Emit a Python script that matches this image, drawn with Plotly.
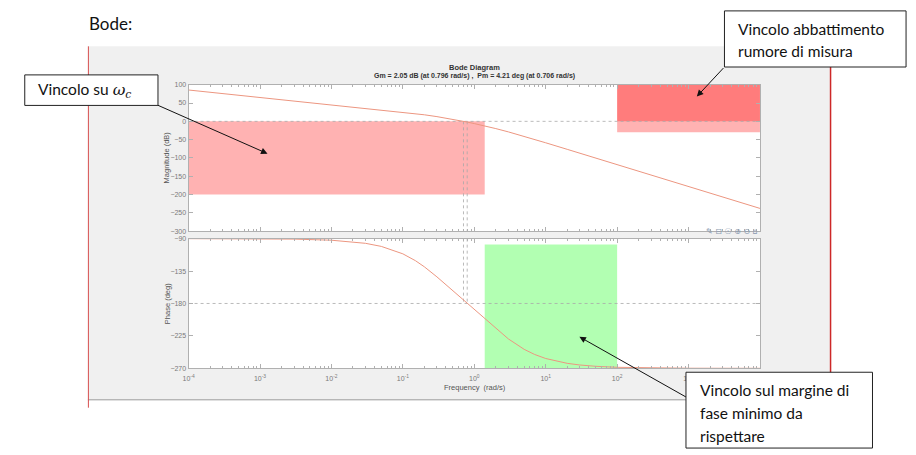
import plotly.graph_objects as go

W, H = 916, 455

# ---- data ----
freq = [1e-4, 3e-4, 1e-3, 3e-3, 1e-2, 2e-2, 3e-2, 5e-2,
        0.1, 0.15, 0.2, 0.3, 0.4, 0.5, 0.706, 0.8,
        1, 1.2, 1.5, 2, 3, 5, 7, 10,
        20, 30, 50, 100, 300, 1000, 3000, 1e4]
mag_db = [85.6, 76.0, 65.6, 56.0, 45.6, 39.6, 36.0, 31.5,
          25.1, 21.1, 17.9, 12.9, 9.0, 5.6, 0.0, -2.1,
          -6.1, -9.5, -13.9, -19.8, -28.8, -41.0, -49.5, -58.6,
          -76.5, -87.0, -100.3, -118.4, -147.0, -177.9, -207.0, -237.9]
phase_deg = [-90.02, -90.06, -90.2, -90.65, -92.2, -94.4, -96.5, -100.8,
             -111.1, -120.6, -129.1, -143.1, -153.9, -162.4, -175.5, -180.2,
             -188.7, -195.6, -204.1, -215.0, -229.2, -243.7, -250.8, -256.4,
             -263.1, -265.4, -267.2, -268.6, -269.5, -269.9, -269.95, -270.0]

gm_freq = 0.796
pm_freq = 0.706
gm_db = 2.05
pm_deg = 4.21

wc_box_freq = [1e-4, 1.4]
wc_box_db = [-200, 0]
noise_box_freq = [100, 1e4]
noise_box_db = [-30, 100]
noise_box2_db = [0, 100]
pm_box_freq = [1.4, 100]
pm_box_deg = [-270, -98]

mag_ticks = [-300, -250, -200, -150, -100, -50, 0, 50, 100]
phase_ticks = [-270, -225, -180, -135, -90]
decades = [-4, -3, -2, -1, 0, 1, 2, 3, 4]
decade_labels = ['10<sup>%d</sup>' % d for d in decades]

title_text = "Bode Diagram"
subtitle_text = "Gm = %.2f dB (at %.3f rad/s) ,  Pm = %.2f deg (at %.3f rad/s)" % (gm_db, gm_freq, pm_deg, pm_freq)

# ---- helpers ----
def px(x):
    return x / W

def py(y):
    return 1 - y / H

major_vals = [10 ** d for d in decades]
minor_vals = [m * 10 ** d for d in decades[:-1] for m in range(2, 10)]

CURVE = 'rgb(236,150,128)'
AXC = '#b0b0b0'
TXT = '#7a7a7a'

fig = go.Figure()

def rect_trace(xs, ys, color, xa, ya):
    return go.Scatter(x=[xs[0], xs[1], xs[1], xs[0], xs[0]],
                      y=[ys[0], ys[0], ys[1], ys[1], ys[0]],
                      mode='lines', fill='toself', fillcolor=color,
                      line=dict(width=0, color=color), hoverinfo='skip',
                      showlegend=False, xaxis=xa, yaxis=ya)

RED = 'rgba(255,0,0,0.3)'
GREEN = 'rgba(0,255,0,0.3)'
fig.add_trace(rect_trace(wc_box_freq, wc_box_db, RED, 'x', 'y'))
fig.add_trace(rect_trace(noise_box_freq, noise_box_db, RED, 'x', 'y'))
fig.add_trace(rect_trace(noise_box_freq, noise_box2_db, RED, 'x', 'y'))
fig.add_trace(rect_trace(pm_box_freq, pm_box_deg, GREEN, 'x2', 'y2'))

DOT = dict(color='#a8a8a8', width=0.8, dash='dot')
# reference lines
fig.add_trace(go.Scatter(x=[freq[0], freq[-1]], y=[0, 0], mode='lines', line=DOT,
                         showlegend=False, hoverinfo='skip', xaxis='x', yaxis='y'))
fig.add_trace(go.Scatter(x=[freq[0], freq[-1]], y=[-180, -180], mode='lines', line=DOT,
                         showlegend=False, hoverinfo='skip', xaxis='x2', yaxis='y2'))
for f in [pm_freq, gm_freq]:
    fig.add_trace(go.Scatter(x=[f, f], y=[0, -300], mode='lines', line=DOT,
                             showlegend=False, hoverinfo='skip', xaxis='x', yaxis='y'))
    fig.add_trace(go.Scatter(x=[f, f], y=[-90, -180], mode='lines', line=DOT,
                             showlegend=False, hoverinfo='skip', xaxis='x2', yaxis='y2'))

fig.add_trace(go.Scatter(x=freq, y=mag_db, mode='lines', line=dict(color=CURVE, width=1),
                         showlegend=False, xaxis='x', yaxis='y'))
fig.add_trace(go.Scatter(x=freq, y=phase_deg, mode='lines', line=dict(color=CURVE, width=1),
                         showlegend=False, xaxis='x2', yaxis='y2'))

X0, X1 = 185, 764
MAG_TOP, MAG_BOT = 82, 230.7
PH_TOP, PH_BOT = 238.3, 370

common_x = dict(type='log', range=[-4, 4], domain=[px(X0), px(X1)],
                tickmode='array', tickvals=major_vals, ticks='inside', ticklen=4,
                tickcolor=AXC, showline=True, linecolor=AXC, linewidth=1, mirror='allticks',
                showgrid=False, zeroline=False,
                minor=dict(tickmode='array', tickvals=minor_vals, ticks='inside', ticklen=2,
                           tickcolor=AXC, showgrid=False),
                tickfont=dict(family='Liberation Sans', size=7, color=TXT))
common_y = dict(ticks='inside', ticklen=4, tickcolor=AXC, showline=True, linecolor=AXC,
                linewidth=1, mirror='allticks', showgrid=False, zeroline=False,
                tickfont=dict(family='Liberation Sans', size=7, color=TXT))

fig.update_layout(
    width=W, height=H, margin=dict(l=0, r=0, t=0, b=0),
    paper_bgcolor='white', plot_bgcolor='rgba(0,0,0,0)',
    showlegend=False,
    xaxis=dict(common_x, anchor='y', showticklabels=False),
    yaxis=dict(common_y, domain=[py(MAG_BOT), py(MAG_TOP)], range=[-300, 100],
               tickmode='array', tickvals=mag_ticks, anchor='x'),
    xaxis2=dict(common_x, anchor='y2', ticktext=decade_labels, ticklabelstandoff=3),
    yaxis2=dict(common_y, domain=[py(PH_BOT), py(PH_TOP)], range=[-270, -90],
                tickmode='array', tickvals=phase_ticks, anchor='x2'),
)

shapes = []
# figure (gray) background
shapes.append(dict(type='rect', xref='paper', yref='paper', x0=px(83), x1=px(835), y0=py(402), y1=py(43),
                   fillcolor='#f0f0f0', line=dict(width=0), layer='below'))
for top, bot in [(MAG_TOP, MAG_BOT), (PH_TOP, PH_BOT)]:
    shapes.append(dict(type='rect', xref='paper', yref='paper', x0=px(X0), x1=px(X1), y0=py(bot), y1=py(top),
                       fillcolor='white', line=dict(width=0), layer='below'))
shapes.append(dict(type='line', xref='paper', yref='paper', x0=px(83), x1=px(689), y0=py(402), y1=py(402),
                   line=dict(color='#9a9a9a', width=1), layer='below'))
shapes.append(dict(type='line', xref='paper', yref='paper', x0=px(83.5), x1=px(83.5), y0=py(410), y1=py(43),
                   line=dict(color='rgb(215,80,80)', width=1), layer='above'))
shapes.append(dict(type='line', xref='paper', yref='paper', x0=px(835.5), x1=px(835.5), y0=py(402), y1=py(43),
                   line=dict(color='rgb(205,40,40)', width=1.5), layer='above'))
# callout boxes
for (bx0, by0, bx1, by1) in [(19, 72, 154, 103), (728, 7, 912, 64), (689, 374, 878, 451)]:
    shapes.append(dict(type='rect', xref='paper', yref='paper', x0=px(bx0), x1=px(bx1), y0=py(by1), y1=py(by0),
                       fillcolor='white', line=dict(color='#222222', width=1), layer='above'))
fig.update_layout(shapes=shapes)

ann = []
BOXF = dict(family='Lato', size=15.5, color='#111111')
def txt(x, y, s, font, xanchor='left', yanchor='middle', **kw):
    ann.append(dict(x=px(x), y=py(y), xref='paper', yref='paper', text=s, showarrow=False,
                    xanchor=xanchor, yanchor=yanchor, font=font, **kw))

txt(82, 20, 'Bode:', dict(family='Lato', size=17, color='#111111'))
txt(30, 88, 'Vincolo su <span style="font-family:DejaVu Serif"><i>ω</i><sub><i>c</i></sub></span>', BOXF)
txt(740, 25, 'Vincolo abbattimento', BOXF)
txt(740, 48, 'rumore di misura', BOXF)
txt(701, 392, 'Vincolo sul margine di', BOXF)
txt(701, 415.5, 'fase minimo da', BOXF)
txt(701, 439, 'rispettare', BOXF)

txt(475, 64, '<b>' + title_text + '</b>', dict(family='Liberation Sans', size=7.5, color='#333333'), xanchor='center')
txt(475, 73, '<b>' + subtitle_text + '</b>', dict(family='Liberation Sans', size=7, color='#333333'), xanchor='center')
txt(163, 156, 'Magnitude (dB)', dict(family='Liberation Sans', size=7.5, color='#555555'), xanchor='center', textangle=-90)
txt(163, 304, 'Phase (deg)', dict(family='Liberation Sans', size=7.5, color='#555555'), xanchor='center', textangle=-90)
txt(475, 389, 'Frequency  (rad/s)', dict(family='Liberation Sans', size=7.5, color='#555555'), xanchor='center')
txt(764, 231, '✎ ⊟ ☉ ⊕ ⊖ ⌂', dict(family='DejaVu Sans', size=8, color='#8a9ab0'), xanchor='right')

# arrows (head at x,y ; tail at offset)
for (hx, hy, tx, ty) in [(265, 152, 154, 103), (700, 94, 728, 64), (581, 338, 689, 399)]:
    ann.append(dict(x=px(hx), y=py(hy), xref='paper', yref='paper', text='', showarrow=True,
                    ax=tx - hx, ay=ty - hy, axref='pixel', ayref='pixel',
                    arrowhead=2, arrowsize=1.3, arrowwidth=1, arrowcolor='#111111',
                    standoff=0, startstandoff=0))
fig.update_layout(annotations=ann)

fig.write_html('out.html')
